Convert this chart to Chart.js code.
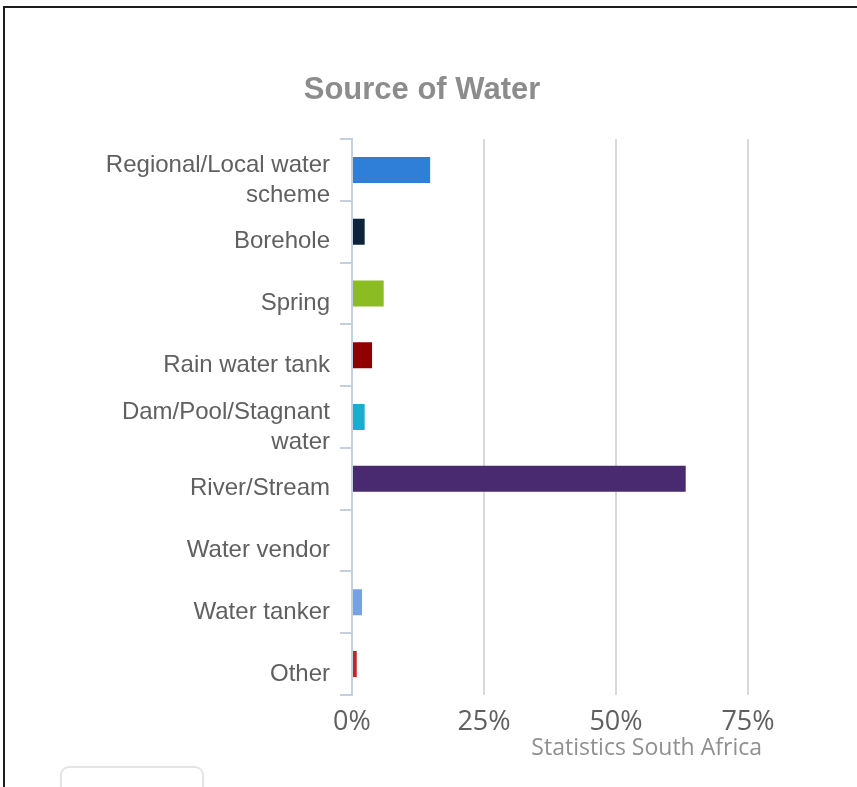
<!DOCTYPE html>
<html>
<head>
<meta charset="utf-8">
<title>Source of Water</title>
<script src="https://cdn.jsdelivr.net/npm/chart.js@4"></script>
<style>
  html, body { margin: 0; padding: 0; background: #fff; }
  #wrap { position: relative; width: 857px; height: 787px; overflow: hidden; }
  #chart { position: absolute; left: 0; top: 0; }
  .frame {
    position: absolute; left: 3px; top: 6px; right: 0; bottom: 0;
    border-top: 2px solid #1c1c1c; border-left: 2px solid #1c1c1c;
  }
  .export-btn {
    position: absolute; left: 60px; top: 766px; width: 140px; height: 40px;
    border: 2px solid #e4e4e4; border-radius: 9px; background: #fff;
  }
  .credits {
    position: absolute; right: 95px; top: 735px;
    font: 23px/23px "Open Sans", sans-serif; color: #909090; white-space: nowrap;
  }
</style>
</head>
<body>
<div id="wrap">
  <canvas id="chart" width="857" height="787"></canvas>
  <div class="frame"></div>
  <div class="export-btn"></div>
  <div class="credits">Statistics South Africa</div>
</div>
<script>
// categorias e percentagens por fonte de água
const sources = [
  ['Regional/Local water', 'scheme'],
  'Borehole',
  'Spring',
  'Rain water tank',
  ['Dam/Pool/Stagnant', 'water'],
  'River/Stream',
  'Water vendor',
  'Water tanker',
  'Other'
];
const shares = [14.8, 2.4, 6.0, 3.8, 2.4, 63.2, 0, 1.9, 0.9];
const barColors = ['#2f7ed8', '#0d233a', '#8bbc21', '#910000', '#1aadce', '#492970', '#f28f43', '#77a1e5', '#c42525'];
const xTicks = [0, 25, 50, 75];

const axisBlue = '#c4d0de';

new Chart(document.getElementById('chart'), {
  type: 'bar',
  data: {
    labels: sources,
    datasets: [{
      data: shares,
      backgroundColor: barColors,
      borderWidth: 0,
      inflateAmount: 0,
      barThickness: 26
    }]
  },
  options: {
    indexAxis: 'y',
    responsive: false,
    animation: false,
    layout: { padding: { left: 96, right: 109, top: 0, bottom: 0 } },
    plugins: {
      legend: { display: false },
      tooltip: { enabled: false },
      title: {
        display: true,
        text: 'Source of Water',
        color: '#8c8c8c',
        font: { family: 'Liberation Sans', size: 31, weight: 'bold', lineHeight: 1.2 },
        padding: { top: 72, bottom: 30 }
      }
    },
    scales: {
      x: {
        min: xTicks[0],
        max: xTicks[xTicks.length - 1],
        afterBuildTicks: scale => { scale.ticks = xTicks.map(v => ({ value: v })); },
        afterFit: scale => { scale.height = 92; },
        grid: { color: '#d9d9d9', lineWidth: 2, drawTicks: false },
        border: { display: false },
        ticks: {
          padding: 11,
          color: '#606060',
          font: { family: 'Open Sans', size: 27, lineHeight: 1.2 },
          callback: v => v + '%'
        }
      },
      y: {
        afterFit: scale => { scale.width = 256; },
        grid: { drawOnChartArea: false, offset: true, tickLength: 12, color: axisBlue, lineWidth: 2 },
        border: { color: axisBlue, width: 2 },
        ticks: {
          autoSkip: false,
          padding: 10,
          labelOffset: 10,
          color: '#606060',
          font: { family: 'Liberation Sans', size: 24, lineHeight: 1.25 }
        }
      }
    }
  }
});
</script>
</body>
</html>
